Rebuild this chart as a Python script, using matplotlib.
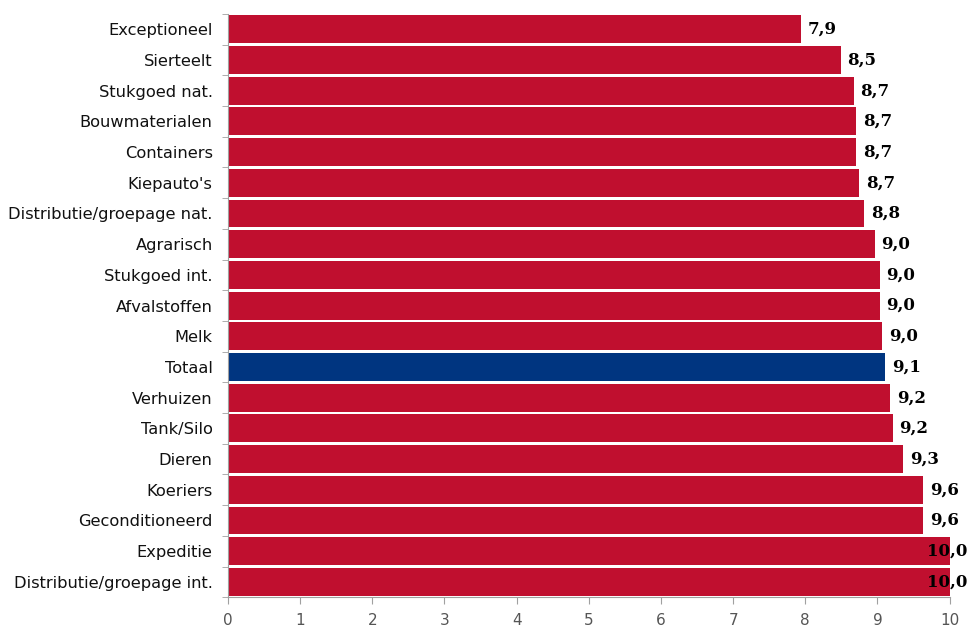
import matplotlib.pyplot as plt
import numpy as np

categories = [
    "Exceptioneel", "Sierteelt", "Stukgoed nat.", "Bouwmaterialen", "Containers",
    "Kiepauto's", "Distributie/groepage nat.", "Agrarisch", "Stukgoed int.",
    "Afvalstoffen", "Melk", "Totaal", "Verhuizen", "Tank/Silo", "Dieren",
    "Koeriers", "Geconditioneerd", "Expeditie", "Distributie/groepage int.",
]
values = [7.94, 8.49, 8.67, 8.70, 8.70, 8.75, 8.82, 8.96, 9.03, 9.03, 9.06,
          9.11, 9.18, 9.21, 9.35, 9.63, 9.63, 10.0, 10.0]
labels = ["7,9", "8,5", "8,7", "8,7", "8,7", "8,7", "8,8", "9,0", "9,0", "9,0",
          "9,0", "9,1", "9,2", "9,2", "9,3", "9,6", "9,6", "10,0", "10,0"]
highlight = "Totaal"

RED = "#C00F2F"
NAVY = "#003580"
AXIS = "#A0A0A0"

fig = plt.figure(figsize=(9.74, 6.34), dpi=100)
ax = fig.add_axes([0.234, 0.058, 0.741, 0.920])

y = np.arange(len(categories))
colors = [NAVY if c == highlight else RED for c in categories]
ax.barh(y, values, height=0.91, color=colors, zorder=2)

ax.set_ylim(len(categories) - 0.5, -0.5)
ax.set_xlim(0, 10)

for yi, v, lab in zip(y, values, labels):
    # labels that would run past the figure edge are pulled back over the bar end
    if v >= 9.9:
        ax.annotate(lab, xy=(v, yi), xytext=(13, 0), textcoords="offset points",
                    ha="right", va="center", fontsize=12, fontweight="bold",
                    family="DejaVu Serif", color="black", zorder=3)
    else:
        ax.annotate(lab, xy=(v, yi), xytext=(5, 0), textcoords="offset points",
                    ha="left", va="center", fontsize=12, fontweight="bold",
                    family="DejaVu Serif", color="black", zorder=3)

ax.set_yticks(y)
ax.set_yticklabels(categories, fontsize=11.7, color="#111111")
ax.set_yticks(np.arange(-0.5, len(categories), 1.0), minor=True)
ax.tick_params(axis="y", which="major", length=0, pad=11)
ax.tick_params(axis="y", which="minor", length=4, color=AXIS, direction="out")

ax.set_xticks(range(0, 11))
ax.tick_params(axis="x", length=5, color=AXIS, labelsize=11, labelcolor="#555555", pad=6)

for side in ("top", "right"):
    ax.spines[side].set_visible(False)
for side in ("left", "bottom"):
    ax.spines[side].set_color(AXIS)

fig.savefig("out.png", dpi=100)
